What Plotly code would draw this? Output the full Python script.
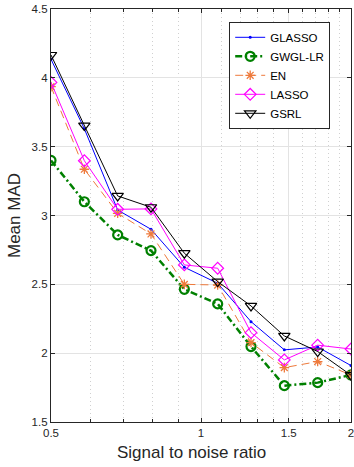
import math
import plotly.graph_objects as go

# Signal to noise ratio (log-spaced sweep) and mean MAD per method
snr = [0.5, 0.5833, 0.6804, 0.7937, 0.9259, 1.0801, 1.2599, 1.4697, 1.7145, 2.0]
glasso = [4.135, 3.63, 3.04, 2.90, 2.624, 2.508, 2.229, 2.024, 2.045, 1.91]
gwgl_lr = [3.40, 3.10, 2.859, 2.745, 2.464, 2.358, 2.048, 1.764, 1.786, 1.842]
en = [3.936, 3.336, 3.016, 2.866, 2.50, 2.495, 2.077, 1.895, 1.939, 1.842]
lasso = [3.967, 3.398, 3.045, 3.048, 2.641, 2.617, 2.149, 1.951, 2.058, 2.03]
gsrl = [4.166, 3.653, 3.142, 3.06, 2.726, 2.52, 2.343, 2.125, 2.012, 1.84]

x_ticks = [0.5, 1, 1.5, 2]
x_minor = [0.6, 0.7, 0.8, 0.9, 1.1, 1.2, 1.3, 1.4, 1.6, 1.7, 1.8, 1.9]
y_ticks = [1.5, 2, 2.5, 3, 3.5, 4, 4.5]

FONT = "Liberation Sans, Arial, sans-serif"
TXT = "#262626"

fig = go.Figure()

fig.add_trace(go.Scatter(
    x=snr, y=glasso, name="GLASSO", mode="lines+markers",
    line=dict(color="#0000FF", width=1),
    marker=dict(symbol="circle", size=3, color="#0000FF"),
))
fig.add_trace(go.Scatter(
    x=snr, y=gwgl_lr, name="GWGL-LR", mode="lines+markers",
    line=dict(color="#008000", width=2.5, dash="7px,3px,2px,3px"),
    marker=dict(symbol="circle-open", size=9, color="#008000",
                line=dict(width=2.2, color="#008000")),
))
fig.add_trace(go.Scatter(
    x=snr, y=en, name="EN", mode="lines+markers",
    line=dict(color="#EE7A3C", width=1, dash="8px,5px"),
    marker=dict(symbol="asterisk-open", size=8,
                line=dict(width=1.3, color="#EE7A3C")),
))
fig.add_trace(go.Scatter(
    x=snr, y=lasso, name="LASSO", mode="lines+markers",
    line=dict(color="#FF00FF", width=1),
    marker=dict(symbol="diamond-open", size=9, color="#FF00FF",
                line=dict(width=1.2, color="#FF00FF")),
))
fig.add_trace(go.Scatter(
    x=snr, y=gsrl, name="GSRL", mode="lines+markers",
    line=dict(color="#000000", width=1),
    marker=dict(symbol="triangle-down-open", size=10, color="#000000",
                line=dict(width=1.2, color="#000000")),
))

fig.update_layout(
    width=354, height=467,
    margin=dict(l=51, r=0, t=9, b=45),
    paper_bgcolor="white", plot_bgcolor="white",
    font=dict(family=FONT, size=11.5, color=TXT),
    showlegend=True,
    legend=dict(
        x=0.594, y=0.969, xanchor="left", yanchor="top",
        bgcolor="white", bordercolor="#262626", borderwidth=1,
        font=dict(family=FONT, size=11.5, color="#000000"),
        tracegroupgap=0,
    ),
    xaxis=dict(
        type="log", range=[math.log10(0.5), math.log10(2)],
        tickmode="array", tickvals=x_ticks, ticktext=[f"{v:g}" for v in x_ticks],
        ticklabeloverflow="allow",
        ticks="inside", ticklen=4, tickcolor=TXT,
        showline=True, linecolor=TXT, linewidth=1.3, mirror="ticks",
        showgrid=True, gridcolor="#E3E3E3", gridwidth=1,
        zeroline=False,
        minor=dict(tickmode="array", tickvals=x_minor, ticks="inside",
                   ticklen=3, tickcolor=TXT, showgrid=True,
                   gridcolor="#D0D0D0", griddash="1px,3px", gridwidth=1),
        tickfont=dict(size=11.5, color=TXT),
    ),
    yaxis=dict(
        range=[1.5, 4.5], tickmode="array", tickvals=y_ticks,
        ticktext=[f"{v:g}" for v in y_ticks],
        ticks="inside", ticklen=4, tickcolor=TXT,
        showline=True, linecolor=TXT, linewidth=1.3, mirror="ticks",
        showgrid=True, gridcolor="#E3E3E3", gridwidth=1,
        zeroline=False,
        tickfont=dict(size=11.5, color=TXT),
        title=dict(text="Mean MAD", font=dict(size=17, color=TXT), standoff=6),
    ),
    annotations=[dict(
        text="Signal to noise ratio", xref="paper", yref="paper",
        x=0.469, y=-0.073, xanchor="center", yanchor="middle",
        showarrow=False, font=dict(size=17, color=TXT),
    )],
)

fig.write_html("out.html")
